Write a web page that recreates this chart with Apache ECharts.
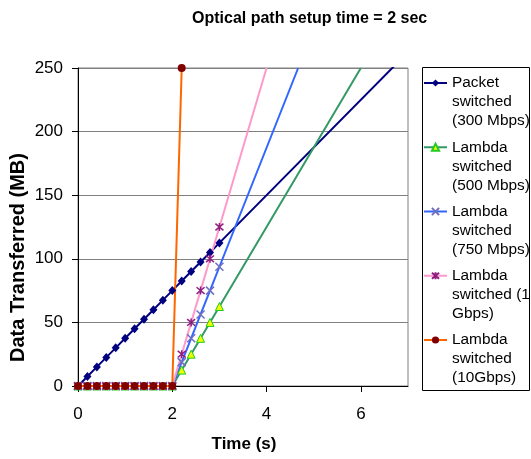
<!DOCTYPE html>
<html><head><meta charset="utf-8">
<script src="https://cdn.jsdelivr.net/npm/echarts@6/dist/echarts.min.js"></script>
<style>html,body{margin:0;padding:0;background:#fff}#c{width:531px;height:459px}</style>
</head><body><div id="c"></div>
<script>
// ---- data ----
const timeS = [0, 0.2, 0.4, 0.6, 0.8, 1.0, 1.2, 1.4, 1.6, 1.8, 2.0, 2.2, 2.4, 2.6, 2.8, 3.0];
const seriesNames = [
  'Packet\nswitched\n(300 Mbps)',
  'Lambda\nswitched\n(500 Mbps)',
  'Lambda\nswitched\n(750 Mbps)',
  'Lambda\nswitched (1\nGbps)',
  'Lambda\nswitched\n(10Gbps)'
];
const packet300 = [0, 7.5, 15, 22.5, 30, 37.5, 45, 52.5, 60, 67.5, 75, 82.5, 90, 97.5, 105, 112.5];
const lambda500 = [0, 0, 0, 0, 0, 0, 0, 0, 0, 0, 0, 12.5, 25, 37.5, 50, 62.5];
const lambda750 = [0, 0, 0, 0, 0, 0, 0, 0, 0, 0, 0, 18.75, 37.5, 56.25, 75, 93.75];
const lambda1g  = [0, 0, 0, 0, 0, 0, 0, 0, 0, 0, 0, 25, 50, 75, 100, 125];
const lambda10g = [0, 0, 0, 0, 0, 0, 0, 0, 0, 0, 0, 250];
// extrapolated line end (no marker) for each series
const packetTail = [7, 262.5];
const lambda500Tail = [6, 250];
const lambda750Tail = [4.67, 250];
const lambda1gTail = [4, 250];
const xTickValues = [0, 2, 4, 6];
const yTickInterval = 50;

const FONT = "'Liberation Sans', Arial, sans-serif";

function build(values, tail) {
  const d = values.map((v, i) => [timeS[i], v]);
  if (tail) d.push({ value: tail, symbol: 'none' });
  return d;
}

const crossPath = 'path://M0,0L10,10M10,0L0,10';
const starPath = 'path://M0,0L10,10M10,0L0,10M5,-1L5,11';

const chart = echarts.init(document.getElementById('c'), null, { renderer: 'canvas' });
chart.setOption({
  animation: false,
  backgroundColor: '#fff',
  textStyle: { fontFamily: FONT },
  title: {
    text: 'Optical path setup time = 2 sec',
    left: 187, top: 6,
    textStyle: { fontFamily: FONT, fontWeight: 'bold', fontSize: 16, color: '#000' }
  },
  grid: {
    left: 78, right: 123, top: 68, bottom: 73,
    show: true, borderColor: '#808080', borderWidth: 1, backgroundColor: 'transparent'
  },
  xAxis: {
    type: 'value', min: 0, max: 7,
    axisLine: { show: true, lineStyle: { color: '#000', width: 1 } },
    axisTick: { show: true, length: 6, customValues: xTickValues, lineStyle: { color: '#000' } },
    axisLabel: { customValues: xTickValues, fontSize: 17, color: '#000', margin: 20, fontFamily: FONT },
    splitLine: { show: false }
  },
  yAxis: {
    type: 'value', min: 0, max: 250, interval: yTickInterval,
    axisLine: { show: true, lineStyle: { color: '#000', width: 1 } },
    axisTick: { show: true, length: 6, lineStyle: { color: '#000' } },
    axisLabel: { fontSize: 17, color: '#000', margin: 15, fontFamily: FONT },
    splitLine: { show: true, lineStyle: { color: '#808080', width: 1 } }
  },
  legend: {
    orient: 'vertical',
    left: 423, top: 35.5,
    padding: 0,
    itemGap: -30.75,
    itemWidth: 23, itemHeight: 9,
    selectedMode: false,
    data: seriesNames,
    formatter: name => '\n\n' + name,
    textStyle: { fontFamily: FONT, fontSize: 15.4, lineHeight: 19, color: '#000' }
  },
  graphic: [
    { type: 'rect', shape: { x: 422.5, y: 67.5, width: 107, height: 323 },
      style: { fill: 'none', stroke: '#000', lineWidth: 1 }, z: 0, silent: true },
    { type: 'text', x: 18.5, y: 257.5, rotation: Math.PI / 2,
      style: { text: 'Data Transferred (MB)', fontFamily: FONT, fontWeight: 'bold', fontSize: 20,
               fill: '#000', align: 'center', verticalAlign: 'middle' } },
    { type: 'text', x: 244, y: 444,
      style: { text: 'Time (s)', fontFamily: FONT, fontWeight: 'bold', fontSize: 17,
               fill: '#000', align: 'center', verticalAlign: 'middle' } }
  ],
  series: [
    { name: seriesNames[0], type: 'line', data: build(packet300, packetTail),
      symbol: 'diamond', symbolSize: [8, 9], showAllSymbol: true, clip: true,
      lineStyle: { color: '#000080', width: 2 },
      itemStyle: { color: '#000080', borderColor: '#000080', borderWidth: 0 } },
    { name: seriesNames[1], type: 'line', data: build(lambda500, lambda500Tail),
      symbol: 'triangle', symbolSize: 8, showAllSymbol: true, clip: true,
      lineStyle: { color: '#339966', width: 2 },
      itemStyle: { color: '#eeff00', borderColor: '#22cc22', borderWidth: 1 } },
    { name: seriesNames[2], type: 'line', data: build(lambda750, lambda750Tail),
      symbol: crossPath, symbolSize: 8, showAllSymbol: true, clip: true,
      lineStyle: { color: '#3366ff', width: 2 },
      itemStyle: { color: 'none', borderColor: '#6f6fbf', borderWidth: 1.5 } },
    { name: seriesNames[3], type: 'line', data: build(lambda1g, lambda1gTail),
      symbol: starPath, symbolSize: 8, showAllSymbol: true, clip: true,
      lineStyle: { color: '#ff99cc', width: 2 },
      itemStyle: { color: 'none', borderColor: '#8e1f80', borderWidth: 1.5 } },
    { name: seriesNames[4], type: 'line', data: build(lambda10g, null),
      symbol: 'circle', symbolSize: 8, showAllSymbol: true, clip: true,
      lineStyle: { color: '#ff6600', width: 2 },
      itemStyle: { color: '#800000', borderColor: '#800000', borderWidth: 0 } }
  ]
});
</script>
</body></html>
